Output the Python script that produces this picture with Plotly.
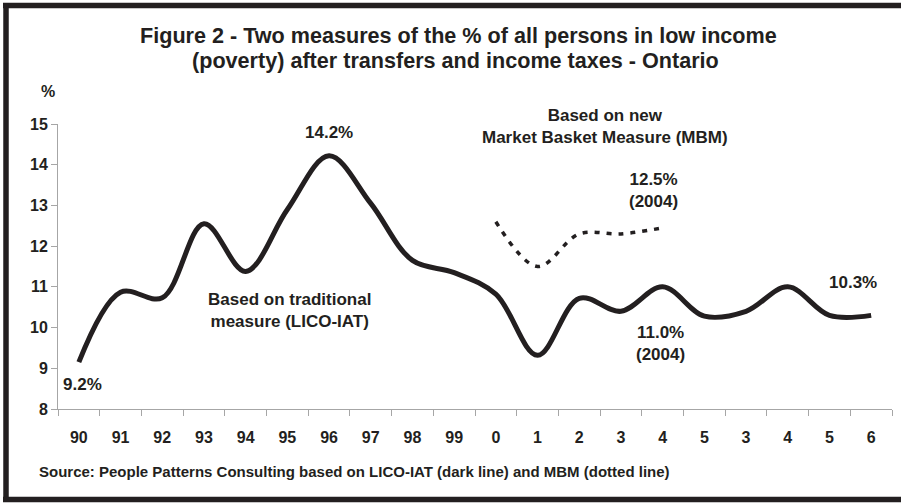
import plotly.graph_objects as go

# x axis labels (years, as printed on the chart)
years = ["90", "91", "92", "93", "94", "95", "96", "97", "98", "99",
         "0", "1", "2", "3", "4", "5", "3", "4", "5", "6"]

# LICO-IAT (dark line), % of persons in low income
lico = [9.15, 10.87, 10.73, 12.55, 11.38, 12.9, 14.22, 13.05, 11.65, 11.35,
        10.82, 9.32, 10.72, 10.4, 11.0, 10.28, 10.4, 11.0, 10.3, 10.3]

# MBM (dotted line), only 2000-2004
mbm = [None] * 10 + [12.6, 11.5, 12.3, 12.3, 12.45] + [None] * 5

y_ticks = [8, 9, 10, 11, 12, 13, 14, 15]

INK = "#231f20"
GREY = "#a6a6a6"
FONT = "Liberation Sans, Arial, sans-serif"

# plot area in pixels: x 58..892, y 124..409
PL, PR, PT, PB = 58, 892, 124, 409


def px(x):
    return (x - PL) / (PR - PL)


def py(y):
    return (PB - y) / (PB - PT)


xs = list(range(len(years)))

fig = go.Figure()
fig.add_trace(go.Scatter(
    x=xs, y=lico, mode="lines",
    line=dict(color=INK, width=5, shape="spline", smoothing=1),
    hoverinfo="skip", showlegend=False,
))
fig.add_trace(go.Scatter(
    x=xs, y=mbm, mode="lines",
    line=dict(color=INK, width=3.5, shape="spline", smoothing=1, dash="5px,7px"),
    hoverinfo="skip", showlegend=False, connectgaps=False,
))


def note(text, x, y, size=17):
    fig.add_annotation(
        x=x, y=y, xref="x", yref="y", text=text, showarrow=False,
        font=dict(family=FONT, size=size, color=INK, weight="bold"),
        align="center", xanchor="center", yanchor="middle",
    )


note("14.2%", 6.0, 14.78)
note("9.2%", 0.08, 8.59)
note("Based on traditional<br>measure (LICO-IAT)", 5.06, 10.43)
note("Based on new<br>Market Basket Measure (MBM)", 12.62, 14.93)
note("12.5%<br>(2004)", 13.77, 13.36)
note("11.0%<br>(2004)", 13.94, 9.6)
note("10.3%", 18.57, 11.1)


def paper_text(text, x, y, size, xanchor="center"):
    fig.add_annotation(
        x=px(x), y=py(y), xref="paper", yref="paper", text=text,
        showarrow=False, xanchor=xanchor, yanchor="middle",
        font=dict(family=FONT, size=size, color=INK, weight="bold"),
    )


# title, two lines
paper_text("Figure 2 - Two measures of the % of all persons in low income", 458, 36, 21.6)
paper_text("(poverty) after transfers and income taxes - Ontario", 455, 61, 21.6)

# "%" unit label above the y axis
paper_text("%", 48, 91, 16)

# source line
paper_text("Source: People Patterns Consulting based on LICO-IAT (dark line) and MBM (dotted line)",
           37, 471, 15, xanchor="left")

# thick outer frame: top, left, bottom (right edge falls outside the picture)
for x0, y0, x1, y1 in [(3, 5.5, 905, 5.5), (6, 3, 6, 502), (3, 499.5, 905, 499.5)]:
    fig.add_shape(
        type="line", xref="paper", yref="paper",
        x0=px(x0), y0=py(y0), x1=px(x1), y1=py(y1),
        line=dict(color=INK, width=5.5), layer="above",
    )

fig.update_layout(
    width=901, height=503,
    margin=dict(l=PL, r=901 - PR, t=PT, b=503 - PB),
    paper_bgcolor="white", plot_bgcolor="white",
    font=dict(family=FONT, color=INK),
    xaxis=dict(
        range=[-0.5, len(years) - 0.5],
        tickmode="array", tickvals=xs, ticktext=years, ticks="",
        showline=True, linecolor=GREY, linewidth=1,
        showgrid=False, zeroline=False,
        tickfont=dict(family=FONT, size=16, color=INK, weight="bold"),
        ticklabelstandoff=14,
        minor=dict(tickmode="linear", tick0=-0.5, dtick=1, ticks="outside",
                   ticklen=6, tickcolor=GREY, showgrid=False),
    ),
    yaxis=dict(
        range=[8, 15], tickmode="array", tickvals=y_ticks,
        ticks="outside", ticklen=6, tickcolor=GREY,
        showline=True, linecolor=GREY, linewidth=1,
        showgrid=False, zeroline=False,
        tickfont=dict(family=FONT, size=16, color=INK, weight="bold"),
    ),
)

# drop the page's default body margin and scrollbars so the figure fills the window
fig.write_html("out.html", config={"displayModeBar": False},
               post_script="document.body.style.margin = '0';"
                           "document.body.style.overflow = 'hidden';"
                           "document.documentElement.style.overflow = 'hidden';")
